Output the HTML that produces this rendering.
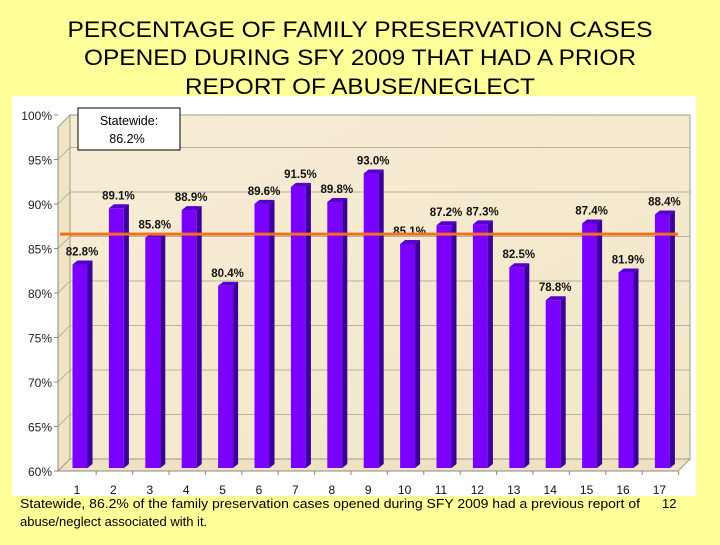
<!DOCTYPE html>
<html><head><meta charset="utf-8"><style>
body{margin:0;background:#FFFF99;width:720px;height:540px;overflow:hidden;font-family:"Liberation Sans",Arial,sans-serif}
</style></head><body>
<svg width="720" height="540" xmlns="http://www.w3.org/2000/svg">
<defs>
<linearGradient id="bg" x1="0" y1="0" x2="1" y2="1"><stop offset="0" stop-color="#F7EDD6"/><stop offset="1" stop-color="#F3E6C8"/></linearGradient>
</defs>
<rect width="720" height="540" fill="#FFFF99"/>
<g font-size="22" text-anchor="middle" fill="#000">
<text x="360" y="37" textLength="585" lengthAdjust="spacingAndGlyphs">PERCENTAGE OF FAMILY PRESERVATION CASES</text>
<text x="360" y="65" textLength="552" lengthAdjust="spacingAndGlyphs">OPENED DURING SFY 2009 THAT HAD A PRIOR</text>
<text x="360" y="94" textLength="350" lengthAdjust="spacingAndGlyphs">REPORT OF ABUSE/NEGLECT</text>
</g>
<rect x="12" y="96" width="684" height="400" fill="#fff"/>
<g id="plot"></g>
<g font-size="13" fill="#000">
<text x="20" y="508" textLength="620" lengthAdjust="spacingAndGlyphs">Statewide, 86.2% of the family preservation cases opened during SFY 2009 had a previous report of</text>
<text x="20" y="526">abuse/neglect associated with it.</text>
<text x="662" y="508">12</text>
</g>
</svg>
<script>
const categories=["1","2","3","4","5","6","7","8","9","10","11","12","13","14","15","16","17"];
const values=[82.8,89.1,85.8,88.9,80.4,89.6,91.5,89.8,93.0,85.1,87.2,87.3,82.5,78.8,87.4,81.9,88.4];
const statewide=86.2;
const yTicks=[60,65,70,75,80,85,90,95,100];
const NS="http://www.w3.org/2000/svg";
const g=document.getElementById('plot');
function mk(t,a,p){const e=document.createElementNS(NS,t);for(const k in a)e.setAttribute(k,a[k]);(p||g).appendChild(e);return e;}
const yMin=60,yMax=100,frontBottom=471,frontTop=115,dx=12,dy=-12;
function yAxis(v){return frontBottom-(v-yMin)/(yMax-yMin)*(frontBottom-frontTop);}
function yBar(v){return 468-(v-yMin)*8.925;}
const x0=80,step=36.4;
function xCat(i){return x0+i*step;}
// back wall
let w=mk('polygon',{points:`${58+dx},${frontTop+dy+12} 690,${frontTop+dy+12} 690,${frontBottom+dy} ${58+dx},${frontBottom+dy}`,fill:'url(#bg)',stroke:'#a09a8a','stroke-width':1});


// side wall
let s=mk('polygon',{points:`58,${frontTop+12} ${58+dx},${frontTop} ${58+dx},${frontBottom+dy} 58,${frontBottom}`,fill:'#F1E4C4',stroke:'#a09a8a','stroke-width':1});


// floor
let f=mk('polygon',{points:`58,${frontBottom} ${58+dx},${frontBottom+dy} 690,${frontBottom+dy} 678,${frontBottom}`,fill:'#EFE2C2',stroke:'#a09a8a','stroke-width':1});


yTicks.forEach(v=>{
 const y=yAxis(v);
 if(v>60&&v<100){
  let l=mk('polyline',{points:`58,${y} ${58+dx},${y+dy} 690,${y+dy}`,fill:'none',stroke:'#b8b0a0','stroke-width':1});
  
  
 }
 let t=mk('text',{x:52,y:y+5,'font-size':12,'text-anchor':'end',fill:'#222'});t.textContent=v+'%';
 
 
 mk('line',{x1:54,x2:58,y1:y,y2:y,stroke:'#888'});
});
let ax=mk('line',{x1:58,y1:frontTop+12,x2:58,y2:frontBottom,stroke:'#888'});


let xa=mk('line',{x1:58,y1:frontBottom,x2:678,y2:frontBottom,stroke:'#888'});


const bw=15,depth=5;
values.forEach((v,i)=>{
 const cx=xCat(i),x=cx-bw/2,top=yBar(v),bot=468;
 const grp=mk('g',{});
 
 
 mk('rect',{x:x,y:top,width:bw,height:bot-top,fill:'#7A00FF'},grp);
 mk('polygon',{points:`${x+bw},${top} ${x+bw+depth},${top-4} ${x+bw+depth},${bot-4} ${x+bw},${bot}`,fill:'#3A0099'},grp);
 mk('polygon',{points:`${x},${top} ${x+depth},${top-4} ${x+bw+depth},${top-4} ${x+bw},${top}`,fill:'#5500CC'},grp);
 let t=mk('text',{x:cx+2,y:top-9,'font-size':11.5,'font-weight':'bold','text-anchor':'middle',fill:'#111'});
 t.textContent=v.toFixed(1)+'%';
 
 
 let c=mk('text',{x:cx-3,y:494,'font-size':12,'text-anchor':'middle',fill:'#111'});
 c.textContent=categories[i];
 
 
 mk('line',{x1:cx+step/2-2,x2:cx+step/2-2,y1:frontBottom,y2:frontBottom+4,stroke:'#888'});
});
const ly=yBar(statewide);
let sl=mk('line',{x1:60,x2:678,y1:ly,y2:ly,stroke:'#F07020','stroke-width':3});


const lg=mk('g',{});


mk('rect',{x:78,y:108,width:102,height:42,fill:'#fff',stroke:'#000','stroke-width':1},lg);
let a=mk('text',{x:129,y:125,'font-size':12.5,'text-anchor':'middle'},lg);a.textContent='Statewide:';
let b=mk('text',{x:127,y:143,'font-size':12.5,'text-anchor':'middle'},lg);b.textContent=statewide.toFixed(1)+'%';
</script>
</body></html>
